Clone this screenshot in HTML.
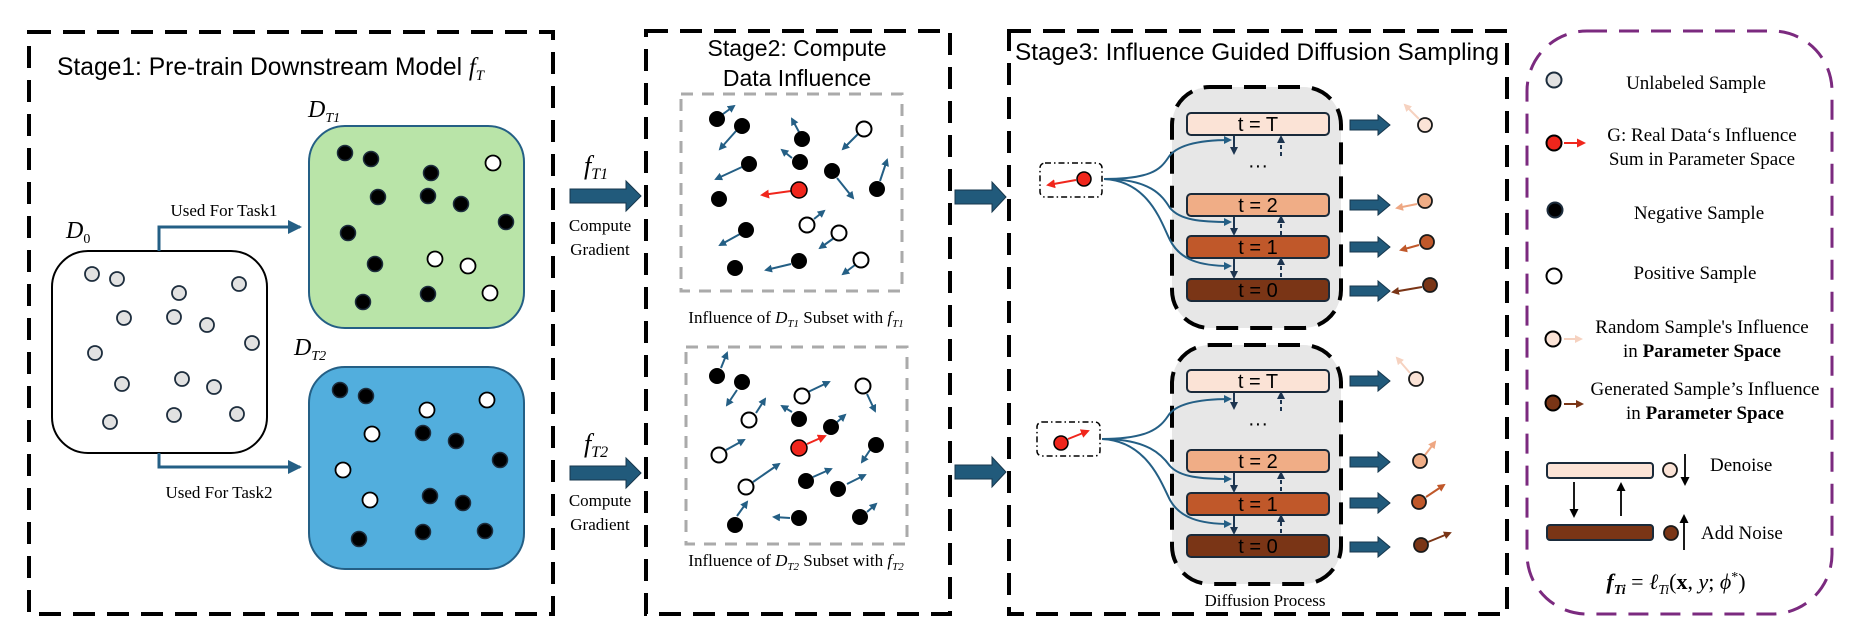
<!DOCTYPE html>
<html><head><meta charset="utf-8"><style>
html,body{margin:0;padding:0;background:#fff}
svg{display:block}
.sans{font-family:"Liberation Sans","DejaVu Sans",sans-serif}
.serif{font-family:"Liberation Serif","DejaVu Serif",serif}
</style></head><body>
<svg width="1861" height="625" viewBox="0 0 1861 625" xmlns="http://www.w3.org/2000/svg">
<defs>
<marker id="mb" markerWidth="8" markerHeight="8" refX="6" refY="4" orient="auto" markerUnits="userSpaceOnUse"><path d="M0,0 L8,4 L0,8 Z" fill="#245f85"/></marker>
<marker id="mbig" markerWidth="14" markerHeight="14" refX="12" refY="7" orient="auto" markerUnits="userSpaceOnUse"><path d="M0,0 L14,7 L0,14 Z" fill="#245f85"/></marker>
<marker id="mr" markerWidth="9" markerHeight="9" refX="7" refY="4.5" orient="auto" markerUnits="userSpaceOnUse"><path d="M0,0 L9,4.5 L0,9 Z" fill="#f0261c"/></marker>
<marker id="md" markerWidth="8" markerHeight="8" refX="6" refY="4" orient="auto" markerUnits="userSpaceOnUse"><path d="M0,0 L8,4 L0,8 Z" fill="#1d3550"/></marker>
<marker id="mk" markerWidth="9" markerHeight="9" refX="7" refY="4.5" orient="auto" markerUnits="userSpaceOnUse"><path d="M0,0 L9,4.5 L0,9 Z" fill="#000"/></marker>
<marker id="m1" markerWidth="8" markerHeight="8" refX="6" refY="4" orient="auto" markerUnits="userSpaceOnUse"><path d="M0,0 L8,4 L0,8 Z" fill="#f6d2c0"/></marker>
<marker id="m2" markerWidth="8" markerHeight="8" refX="6" refY="4" orient="auto" markerUnits="userSpaceOnUse"><path d="M0,0 L8,4 L0,8 Z" fill="#eea783"/></marker>
<marker id="m3" markerWidth="8" markerHeight="8" refX="6" refY="4" orient="auto" markerUnits="userSpaceOnUse"><path d="M0,0 L8,4 L0,8 Z" fill="#c0582a"/></marker>
<marker id="m4" markerWidth="8" markerHeight="8" refX="6" refY="4" orient="auto" markerUnits="userSpaceOnUse"><path d="M0,0 L8,4 L0,8 Z" fill="#7a3516"/></marker>
</defs>

<g fill="none" stroke="#000" stroke-width="4" stroke-dasharray="22 12">
<rect x="29" y="32" width="524" height="582"/>
<rect x="646" y="31" width="304" height="583"/>
<rect x="1009" y="31" width="498" height="583"/>
</g>
<rect x="1527" y="31" width="305" height="583" rx="60" fill="none" stroke="#7b2a7f" stroke-width="3" stroke-dasharray="20 12"/>

<text class="sans" x="57" y="75" font-size="25" textLength="427" lengthAdjust="spacingAndGlyphs">Stage1: Pre-train Downstream Model <tspan class="serif" font-style="italic">f</tspan><tspan class="serif" font-style="italic" font-size="15" dy="5">T</tspan></text>
<text class="serif" font-style="italic" x="66" y="238" font-size="24">D<tspan font-size="14" font-style="normal" dy="5">0</tspan></text>
<text class="serif" font-style="italic" x="308" y="117" font-size="24">D<tspan font-size="14" dy="5">T1</tspan></text>
<text class="serif" font-style="italic" x="294" y="355" font-size="24">D<tspan font-size="14" dy="5">T2</tspan></text>

<rect x="52" y="251" width="215" height="202" rx="36" fill="#fff" stroke="#000" stroke-width="2"/>
<rect x="309" y="126" width="215" height="202" rx="36" fill="#b9e4a8" stroke="#245f85" stroke-width="2"/>
<rect x="309" y="367" width="215" height="202" rx="36" fill="#52aedd" stroke="#245f85" stroke-width="2"/>

<polyline points="159,251 159,227 300,227" fill="none" stroke="#245f85" stroke-width="3" marker-end="url(#mbig)"/>
<polyline points="159,453 159,467 300,467" fill="none" stroke="#245f85" stroke-width="3" marker-end="url(#mbig)"/>
<text class="serif" x="224" y="216" font-size="17" text-anchor="middle">Used For Task1</text>
<text class="serif" x="219" y="498" font-size="17" text-anchor="middle">Used For Task2</text>

<g fill="#e2e2e2" stroke="#1d2d3d" stroke-width="1.8">
<circle cx="92" cy="274" r="7"/><circle cx="117" cy="279" r="7"/><circle cx="179" cy="293" r="7"/><circle cx="239" cy="284" r="7"/><circle cx="124" cy="318" r="7"/><circle cx="174" cy="317" r="7"/><circle cx="207" cy="325" r="7"/><circle cx="252" cy="343" r="7"/><circle cx="95" cy="353" r="7"/><circle cx="122" cy="384" r="7"/><circle cx="182" cy="379" r="7"/><circle cx="214" cy="387" r="7"/><circle cx="110" cy="422" r="7"/><circle cx="174" cy="415" r="7"/><circle cx="237" cy="414" r="7"/>
</g>
<g fill="#000" stroke="#1d2d3d" stroke-width="1.5">
<circle cx="345" cy="153" r="7.5"/><circle cx="371" cy="159" r="7.5"/><circle cx="431" cy="173" r="7.5"/><circle cx="378" cy="197" r="7.5"/><circle cx="428" cy="196" r="7.5"/><circle cx="461" cy="204" r="7.5"/><circle cx="506" cy="222" r="7.5"/><circle cx="348" cy="233" r="7.5"/><circle cx="375" cy="264" r="7.5"/><circle cx="363" cy="302" r="7.5"/><circle cx="428" cy="294" r="7.5"/>
<circle cx="340" cy="390" r="7.5"/><circle cx="366" cy="396" r="7.5"/><circle cx="423" cy="433" r="7.5"/><circle cx="456" cy="441" r="7.5"/><circle cx="500" cy="460" r="7.5"/><circle cx="430" cy="496" r="7.5"/><circle cx="463" cy="503" r="7.5"/><circle cx="359" cy="539" r="7.5"/><circle cx="423" cy="532" r="7.5"/><circle cx="485" cy="531" r="7.5"/>
</g>
<g fill="#fff" stroke="#000" stroke-width="1.8">
<circle cx="493" cy="163" r="7.5"/><circle cx="435" cy="259" r="7.5"/><circle cx="468" cy="266" r="7.5"/><circle cx="490" cy="293" r="7.5"/>
<circle cx="487" cy="400" r="7.5"/><circle cx="427" cy="410" r="7.5"/><circle cx="372" cy="434" r="7.5"/><circle cx="343" cy="470" r="7.5"/><circle cx="370" cy="500" r="7.5"/>
</g>

<text class="serif" font-style="italic" x="584" y="174" font-size="26">f<tspan font-size="16" dy="5">T1</tspan></text>
<polygon points="570,189 626,189 626,181 641,196 626,211 626,203 570,203" fill="#215a7b" stroke="#17374d" stroke-width="1"/>
<text class="serif" x="600" y="231" font-size="17" text-anchor="middle">Compute</text>
<text class="serif" x="600" y="255" font-size="17" text-anchor="middle">Gradient</text>
<text class="serif" font-style="italic" x="584" y="452" font-size="26">f<tspan font-size="16" dy="5">T2</tspan></text>
<polygon points="570,466 626,466 626,458 641,473 626,488 626,480 570,480" fill="#215a7b" stroke="#17374d" stroke-width="1"/>
<text class="serif" x="600" y="506" font-size="17" text-anchor="middle">Compute</text>
<text class="serif" x="600" y="530" font-size="17" text-anchor="middle">Gradient</text>

<text class="sans" x="797" y="56" font-size="23" text-anchor="middle">Stage2: Compute</text>
<text class="sans" x="797" y="86" font-size="23" text-anchor="middle">Data Influence</text>
<rect x="681" y="94" width="221" height="197" fill="none" stroke="#aaa" stroke-width="3" stroke-dasharray="12 9"/>
<rect x="686" y="347" width="221" height="197" fill="none" stroke="#aaa" stroke-width="3" stroke-dasharray="12 9"/>
<text class="serif" x="796" y="323" font-size="17" text-anchor="middle">Influence of <tspan font-style="italic">D</tspan><tspan font-style="italic" font-size="11" dy="4">T1</tspan><tspan dy="-4"> Subset  with </tspan><tspan font-style="italic">f</tspan><tspan font-style="italic" font-size="11" dy="4">T1</tspan></text>
<text class="serif" x="796" y="566" font-size="17" text-anchor="middle">Influence of <tspan font-style="italic">D</tspan><tspan font-style="italic" font-size="11" dy="4">T2</tspan><tspan dy="-4"> Subset  with </tspan><tspan font-style="italic">f</tspan><tspan font-style="italic" font-size="11" dy="4">T2</tspan></text>

<g stroke="#245f85" stroke-width="2" marker-end="url(#mb)">
<line x1="723" y1="114" x2="734" y2="106"/><line x1="736" y1="131" x2="720" y2="149"/><line x1="799" y1="132" x2="792" y2="119"/><line x1="742" y1="167" x2="716" y2="179"/><line x1="792" y1="158" x2="782" y2="150"/><line x1="837" y1="178" x2="853" y2="198"/><line x1="880" y1="181" x2="887" y2="160"/><line x1="858" y1="134" x2="843" y2="149"/><line x1="814" y1="219" x2="824" y2="211"/><line x1="834" y1="238" x2="820" y2="248"/><line x1="740" y1="234" x2="720" y2="245"/><line x1="791" y1="264" x2="766" y2="270"/><line x1="855" y1="265" x2="843" y2="274"/>
<line x1="721" y1="368" x2="727" y2="353"/><line x1="737" y1="390" x2="727" y2="405"/><line x1="808" y1="392" x2="829" y2="382"/><line x1="756" y1="413" x2="765" y2="399"/><line x1="792" y1="412" x2="782" y2="406"/><line x1="836" y1="423" x2="845" y2="415"/><line x1="867" y1="394" x2="875" y2="411"/><line x1="726" y1="450" x2="744" y2="440"/><line x1="753" y1="482" x2="779" y2="464"/><line x1="813" y1="477" x2="831" y2="469"/><line x1="847" y1="484" x2="865" y2="475"/><line x1="870" y1="450" x2="862" y2="462"/><line x1="737" y1="516" x2="747" y2="502"/><line x1="790" y1="518" x2="774" y2="517"/><line x1="867" y1="512" x2="876" y2="504"/>
</g>
<line x1="791" y1="191" x2="762" y2="195" stroke="#f0261c" stroke-width="2" marker-end="url(#mr)"/>
<line x1="807" y1="444" x2="825" y2="436" stroke="#f0261c" stroke-width="2" marker-end="url(#mr)"/>
<g fill="#000">
<circle cx="717" cy="119" r="8"/><circle cx="742" cy="126" r="8"/><circle cx="802" cy="139" r="8"/><circle cx="749" cy="164" r="8"/><circle cx="800" cy="162" r="8"/><circle cx="832" cy="171" r="8"/><circle cx="877" cy="189" r="8"/><circle cx="719" cy="199" r="8"/><circle cx="746" cy="230" r="8"/><circle cx="735" cy="268" r="8"/><circle cx="799" cy="261" r="8"/>
<circle cx="717" cy="376" r="8"/><circle cx="742" cy="382" r="8"/><circle cx="799" cy="419" r="8"/><circle cx="831" cy="427" r="8"/><circle cx="876" cy="445" r="8"/><circle cx="806" cy="481" r="8"/><circle cx="838" cy="489" r="8"/><circle cx="735" cy="525" r="8"/><circle cx="799" cy="518" r="8"/><circle cx="860" cy="517" r="8"/>
</g>
<g fill="#fff" stroke="#000" stroke-width="2">
<circle cx="864" cy="129" r="7.5"/><circle cx="807" cy="225" r="7.5"/><circle cx="839" cy="233" r="7.5"/><circle cx="861" cy="260" r="7.5"/>
<circle cx="863" cy="386" r="7.5"/><circle cx="802" cy="396" r="7.5"/><circle cx="749" cy="420" r="7.5"/><circle cx="719" cy="455" r="7.5"/><circle cx="746" cy="487" r="7.5"/>
</g>
<circle cx="799" cy="190" r="8" fill="#f0261c" stroke="#000" stroke-width="1.5"/>
<circle cx="799" cy="448" r="8" fill="#f0261c" stroke="#000" stroke-width="1.5"/>

<polygon points="955,190 992,190 992,182 1006,197 992,212 992,204 955,204" fill="#215a7b" stroke="#17374d" stroke-width="1"/>
<polygon points="955,465 992,465 992,457 1006,472 992,487 992,479 955,479" fill="#215a7b" stroke="#17374d" stroke-width="1"/>

<text class="sans" x="1015" y="60" font-size="24" textLength="484" lengthAdjust="spacingAndGlyphs">Stage3: Influence Guided Diffusion Sampling</text>

<rect x="1172" y="87" width="169" height="241" rx="38" fill="#e7e7e7" stroke="#000" stroke-width="4" stroke-dasharray="22 12"/>
<rect x="1172" y="345" width="169" height="239" rx="38" fill="#e7e7e7" stroke="#000" stroke-width="4" stroke-dasharray="22 12"/>
<g stroke="#1a2a3a" stroke-width="2">
<rect x="1187" y="113" width="142" height="22" rx="4" fill="#fbe3d6"/>
<rect x="1187" y="194" width="142" height="22" rx="4" fill="#f0ad86"/>
<rect x="1187" y="236" width="142" height="22" rx="4" fill="#c0582a"/>
<rect x="1187" y="279" width="142" height="22" rx="4" fill="#7a3516"/>
<rect x="1187" y="370" width="142" height="22" rx="4" fill="#fbe3d6"/>
<rect x="1187" y="450" width="142" height="22" rx="4" fill="#f0ad86"/>
<rect x="1187" y="493" width="142" height="22" rx="4" fill="#c0582a"/>
<rect x="1187" y="535" width="142" height="22" rx="4" fill="#7a3516"/>
</g>
<g class="sans" font-size="20" text-anchor="middle" fill="#000">
<text x="1258" y="131">t = T</text><text x="1258" y="212">t = 2</text><text x="1258" y="254">t = 1</text><text x="1258" y="297">t = 0</text>
<text x="1258" y="388">t = T</text><text x="1258" y="468">t = 2</text><text x="1258" y="511">t = 1</text><text x="1258" y="553">t = 0</text>
<text x="1258" y="172">···</text><text x="1258" y="430">···</text>
</g>
<g stroke="#1d3550" stroke-width="2" marker-end="url(#md)">
<line x1="1234" y1="136" x2="1234" y2="153"/><line x1="1234" y1="217" x2="1234" y2="234"/><line x1="1234" y1="259" x2="1234" y2="277"/>
<line x1="1234" y1="393" x2="1234" y2="408"/><line x1="1234" y1="473" x2="1234" y2="491"/><line x1="1234" y1="516" x2="1234" y2="533"/>
</g>
<g stroke="#1d3550" stroke-width="2" stroke-dasharray="4 3" marker-end="url(#md)">
<line x1="1281" y1="156" x2="1281" y2="137"/><line x1="1281" y1="235" x2="1281" y2="217"/><line x1="1281" y1="277" x2="1281" y2="259"/>
<line x1="1281" y1="411" x2="1281" y2="393"/><line x1="1281" y1="491" x2="1281" y2="473"/><line x1="1281" y1="533" x2="1281" y2="516"/>
</g>

<rect x="1040" y="163" width="62" height="34" rx="5" fill="#fff" stroke="#000" stroke-width="1.5" stroke-dasharray="6 3 1.5 3"/>
<rect x="1037" y="422" width="63" height="34" rx="5" fill="#fff" stroke="#000" stroke-width="1.5" stroke-dasharray="6 3 1.5 3"/>
<line x1="1076" y1="180" x2="1048" y2="185" stroke="#f0261c" stroke-width="2" marker-end="url(#mr)"/>
<circle cx="1084" cy="179" r="7" fill="#f0261c" stroke="#000" stroke-width="1.5"/>
<line x1="1068" y1="439" x2="1088" y2="431" stroke="#f0261c" stroke-width="2" marker-end="url(#mr)"/>
<circle cx="1061" cy="443" r="7" fill="#f0261c" stroke="#000" stroke-width="1.5"/>

<g fill="none" stroke="#245f85" stroke-width="2" marker-end="url(#mb)">
<path d="M1104,179 C1150,179 1160,170 1168,158 C1176,145 1200,140 1230,140"/>
<path d="M1104,179 C1150,179 1162,195 1170,208 C1180,220 1200,222 1230,222"/>
<path d="M1104,179 C1150,181 1162,225 1170,240 C1180,260 1200,266 1230,266"/>
<path d="M1102,439 C1148,439 1160,428 1168,416 C1176,403 1200,399 1230,399"/>
<path d="M1102,439 C1148,439 1162,455 1170,466 C1180,477 1200,479 1230,479"/>
<path d="M1102,439 C1148,441 1162,485 1170,500 C1180,518 1200,524 1230,524"/>
</g>
<text class="serif" x="1265" y="606" font-size="17" text-anchor="middle">Diffusion Process</text>

<g fill="#215a7b" stroke="#17374d" stroke-width="1">
<polygon points="1350,120 1378,120 1378,115 1390,125 1378,135 1378,130 1350,130"/>
<polygon points="1350,200 1378,200 1378,195 1390,205 1378,215 1378,210 1350,210"/>
<polygon points="1350,242 1378,242 1378,237 1390,247 1378,257 1378,252 1350,252"/>
<polygon points="1350,286 1378,286 1378,281 1390,291 1378,301 1378,296 1350,296"/>
<polygon points="1350,376 1378,376 1378,371 1390,381 1378,391 1378,386 1350,386"/>
<polygon points="1350,457 1378,457 1378,452 1390,462 1378,472 1378,467 1350,467"/>
<polygon points="1350,498 1378,498 1378,493 1390,503 1378,513 1378,508 1350,508"/>
<polygon points="1350,542 1378,542 1378,537 1390,547 1378,557 1378,552 1350,552"/>
</g>
<g stroke-width="2">
<line x1="1419" y1="119" x2="1405" y2="105" stroke="#f6d2c0" marker-end="url(#m1)"/>
<line x1="1417" y1="204" x2="1397" y2="208" stroke="#eea783" marker-end="url(#m2)"/>
<line x1="1419" y1="245" x2="1401" y2="250" stroke="#c0582a" marker-end="url(#m3)"/>
<line x1="1422" y1="287" x2="1393" y2="292" stroke="#7a3516" marker-end="url(#m4)"/>
<line x1="1410" y1="373" x2="1397" y2="358" stroke="#f6d2c0" marker-end="url(#m1)"/>
<line x1="1425" y1="455" x2="1435" y2="442" stroke="#eea783" marker-end="url(#m2)"/>
<line x1="1426" y1="497" x2="1444" y2="485" stroke="#c0582a" marker-end="url(#m3)"/>
<line x1="1428" y1="542" x2="1450" y2="533" stroke="#7a3516" marker-end="url(#m4)"/>
</g>
<g stroke="#1a1a1a" stroke-width="1.8">
<circle cx="1425" cy="125" r="7" fill="#fbe3d6"/><circle cx="1425" cy="201" r="7" fill="#f0ad86"/><circle cx="1427" cy="242" r="7" fill="#c0582a"/><circle cx="1430" cy="285" r="7" fill="#7a3516"/>
<circle cx="1416" cy="379" r="7" fill="#fbe3d6"/><circle cx="1420" cy="461" r="7" fill="#f0ad86"/><circle cx="1419" cy="502" r="7" fill="#c0582a"/><circle cx="1421" cy="545" r="7" fill="#7a3516"/>
</g>

<g stroke="#1d2d3d" stroke-width="2">
<circle cx="1554" cy="80" r="7.5" fill="#e2e2e2"/>
<circle cx="1554" cy="143" r="7.5" fill="#f0261c" stroke="#000"/>
<circle cx="1555" cy="210" r="7.5" fill="#000"/>
<circle cx="1554" cy="276" r="7.5" fill="#fff" stroke="#000"/>
<circle cx="1553" cy="339" r="7.5" fill="#fbe3d6" stroke="#000"/>
<circle cx="1553" cy="403" r="7.5" fill="#7a3516" stroke="#000"/>
</g>
<line x1="1564" y1="143" x2="1584" y2="143" stroke="#f0261c" stroke-width="2" marker-end="url(#mr)"/>
<line x1="1564" y1="339" x2="1581" y2="339" stroke="#f6d2c0" stroke-width="2" marker-end="url(#m1)"/>
<line x1="1564" y1="404" x2="1582" y2="404" stroke="#7a3516" stroke-width="2" marker-end="url(#m4)"/>
<g class="serif" font-size="19" text-anchor="middle" fill="#000">
<text x="1696" y="89">Unlabeled Sample</text>
<text x="1702" y="141">G: Real Data‘s Influence</text>
<text x="1702" y="165">Sum in Parameter Space</text>
<text x="1699" y="219">Negative Sample</text>
<text x="1695" y="279">Positive Sample</text>
<text x="1702" y="333">Random Sample's Influence</text>
<text x="1702" y="357">in <tspan font-weight="bold">Parameter Space</tspan></text>
<text x="1705" y="395">Generated Sample’s Influence</text>
<text x="1705" y="419">in <tspan font-weight="bold">Parameter Space</tspan></text>
</g>
<rect x="1547" y="463" width="106" height="15" rx="3" fill="#fbe3d6" stroke="#1a2a3a" stroke-width="2"/>
<rect x="1547" y="525" width="106" height="15" rx="3" fill="#7a3516" stroke="#1a2a3a" stroke-width="2"/>
<circle cx="1670" cy="470" r="7" fill="#fbe3d6" stroke="#1a1a1a" stroke-width="1.8"/>
<circle cx="1671" cy="533" r="7" fill="#7a3516" stroke="#1a1a1a" stroke-width="1.8"/>
<g stroke="#000" stroke-width="1.8" marker-end="url(#mk)">
<line x1="1685" y1="454" x2="1685" y2="484"/>
<line x1="1684" y1="550" x2="1684" y2="516"/>
<line x1="1574" y1="482" x2="1574" y2="516"/>
<line x1="1621" y1="516" x2="1621" y2="484"/>
</g>
<text class="serif" x="1710" y="471" font-size="19">Denoise</text>
<text class="serif" x="1701" y="539" font-size="19">Add Noise</text>
<text class="serif" x="1676" y="589" font-size="22" text-anchor="middle"><tspan font-style="italic" font-weight="bold">f</tspan><tspan font-style="italic" font-weight="bold" font-size="14" dy="5">Ti</tspan><tspan dy="-5"> = </tspan><tspan font-style="italic">ℓ</tspan><tspan font-style="italic" font-size="14" dy="5">Ti</tspan><tspan dy="-5">(</tspan><tspan font-weight="bold">x</tspan>, <tspan font-style="italic">y</tspan>; <tspan font-style="italic">ϕ</tspan><tspan font-size="14" dy="-8">*</tspan><tspan dy="8">)</tspan></text>
</svg>
</body></html>
